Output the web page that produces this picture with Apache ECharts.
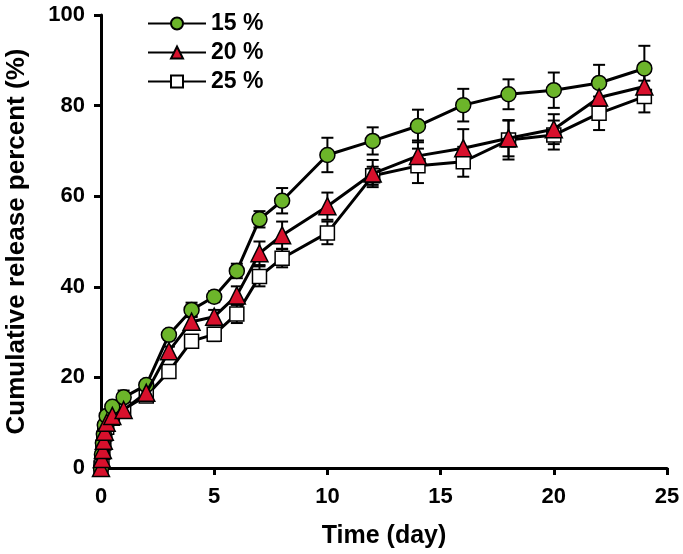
<!DOCTYPE html>
<html>
<head>
<meta charset="utf-8">
<script src="https://cdn.jsdelivr.net/npm/echarts@6/dist/echarts.min.js"></script>
<style>
  html, body { margin: 0; padding: 0; background: #fff; }
  #main { width: 683px; height: 554px; }
</style>
</head>
<body>
<div id="main"></div>
<script>
// 时间点 (day)
var days = [0, 0.042, 0.083, 0.125, 0.167, 0.25, 0.5, 1, 2, 3, 4, 5, 6, 7, 8, 10, 12, 14, 16, 18, 20, 22, 24];

// 累计释放百分比
var rel15 = [0, 3, 5.5, 7.5, 9.5, 11.5, 13.5, 15.6, 18.3, 29.4, 34.9, 37.8, 43.5, 54.9, 59.0, 69.1, 72.2, 75.5, 80.1, 82.5, 83.4, 85.0, 88.2];
var rel20 = [0, 2, 4, 6, 8, 10, 11.5, 12.8, 16.6, 25.8, 32.3, 33.4, 38.1, 47.4, 51.4, 57.8, 65.0, 68.9, 70.6, 72.8, 74.8, 81.8, 84.2];
var rel25 = [0, 1.5, 3.5, 5.5, 7.5, 9, 11, 13.0, 15.9, 21.3, 28.0, 29.5, 34.0, 42.3, 46.3, 51.9, 64.5, 66.7, 67.6, 72.4, 73.5, 78.3, 82.0];

// 误差 (SD)
var err15 = [0, 0.5, 0.5, 0.5, 0.5, 0.8, 0.8, 1.5, 1.0, 1.0, 1.6, 1.2, 1.6, 1.8, 2.8, 3.8, 3.0, 3.6, 3.6, 3.3, 3.9, 4.0, 5.0];
var err20 = [0, 0.5, 0.5, 0.5, 0.5, 0.6, 0.8, 1.0, 1.0, 1.0, 1.2, 1.5, 2.0, 2.6, 3.0, 3.0, 3.0, 3.4, 4.2, 4.0, 3.3, 3.0, 3.0];
var err25 = [0, 0.5, 0.5, 0.5, 0.5, 0.6, 0.8, 1.0, 1.0, 1.0, 1.0, 1.5, 2.0, 2.2, 2.0, 2.5, 2.0, 3.8, 3.3, 4.3, 3.2, 3.7, 3.5];

var names = ['15 %', '20 %', '25 %'];
var xTicks = [0, 5, 10, 15, 20, 25];
var yTicks = [0, 20, 40, 60, 80, 100];

var FONT = '"Liberation Sans", Arial, sans-serif';

function pts(vals) {
    return days.map(function (d, i) { return [d, vals[i]]; });
}
function errPts(vals, errs) {
    return days.map(function (d, i) { return [d, vals[i], errs[i]]; });
}

// 误差线
function renderErr(params, api) {
    var x = api.value(0), y = api.value(1), e = api.value(2);
    if (!e) return null;
    var top = api.coord([x, y + e]);
    var bot = api.coord([x, y - e]);
    var hw = 6;
    var st = { stroke: '#000', lineWidth: 2 };
    return {
        type: 'group',
        children: [
            { type: 'line', shape: { x1: top[0], y1: top[1], x2: bot[0], y2: bot[1] }, style: st },
            { type: 'line', shape: { x1: top[0] - hw, y1: top[1], x2: top[0] + hw, y2: top[1] }, style: st },
            { type: 'line', shape: { x1: bot[0] - hw, y1: bot[1], x2: bot[0] + hw, y2: bot[1] }, style: st }
        ]
    };
}

var myChart = echarts.init(document.getElementById('main'));

function lineSeries(name, vals, symbol, size, color, z) {
    return {
        name: name,
        type: 'line',
        data: pts(vals),
        symbol: symbol,
        symbolSize: size,
        showAllSymbol: true,
        z: z,
        lineStyle: { color: '#000', width: 3 },
        itemStyle: { color: color, borderColor: '#000', borderWidth: 1.5 },
        emphasis: { disabled: true }
    };
}

function errSeries(vals, errs, z) {
    return {
        type: 'custom',
        renderItem: renderErr,
        data: errPts(vals, errs),
        z: z,
        encode: { x: 0, y: 1 },
        silent: true
    };
}

var option = {
    backgroundColor: '#fff',
    animation: false,
    grid: { left: 101, right: 16, top: 15, bottom: 86, outerBoundsMode: 'none', containLabel: false },
    legend: {
        data: names,
        orient: 'vertical',
        left: 142,
        top: 7,
        itemWidth: 58,
        itemHeight: 15,
        itemGap: 6,
        textStyle: { fontFamily: FONT, fontWeight: 'bold', fontSize: 23, color: '#000' }
    },
    xAxis: {
        type: 'value',
        min: xTicks[0],
        max: xTicks[xTicks.length - 1],
        interval: 5,
        name: 'Time (day)',
        nameLocation: 'middle',
        nameGap: 56,
        nameTextStyle: { fontFamily: FONT, fontWeight: 'bold', fontSize: 25, color: '#000' },
        axisLine: { lineStyle: { color: '#000', width: 3 } },
        axisTick: { length: 7, lineStyle: { color: '#000', width: 3 } },
        axisLabel: { fontFamily: FONT, fontWeight: 'bold', fontSize: 22, color: '#000', margin: 18 },
        splitLine: { show: false }
    },
    yAxis: {
        type: 'value',
        min: yTicks[0],
        max: yTicks[yTicks.length - 1],
        interval: 20,
        name: 'Cumulative release percent (%)',
        nameLocation: 'middle',
        nameGap: 71,
        nameTextStyle: { fontFamily: FONT, fontWeight: 'bold', fontSize: 26, color: '#000' },
        axisLine: { lineStyle: { color: '#000', width: 3 } },
        axisTick: { length: 7, lineStyle: { color: '#000', width: 3 } },
        axisLabel: { fontFamily: FONT, fontWeight: 'bold', fontSize: 22, color: '#000', margin: 16 },
        splitLine: { show: false }
    },
    series: [
        errSeries(rel25, err25, 2),
        errSeries(rel15, err15, 3),
        errSeries(rel20, err20, 4),
        lineSeries(names[0], rel15, 'circle', 15, '#6cb52a', 6),
        lineSeries(names[1], rel20, 'triangle', 17, '#d8102c', 7),
        lineSeries(names[2], rel25, 'rect', 14, '#ffffff', 5)
    ]
};

myChart.setOption(option);
</script>
</body>
</html>
